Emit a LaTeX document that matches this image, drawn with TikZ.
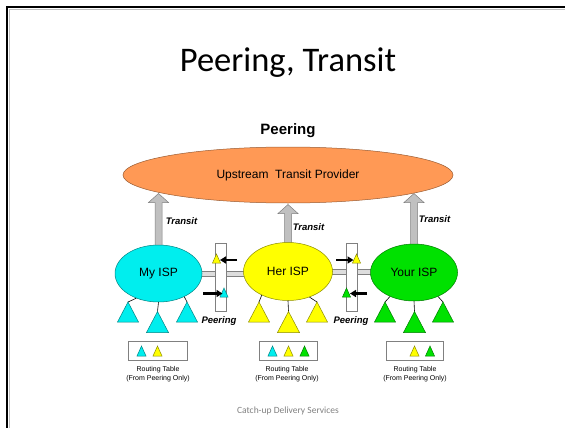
\documentclass[tikz,border=0pt]{standalone}
\usepackage{fontspec}
\setmainfont{Liberation Sans}
\newfontfamily\calib{Carlito}
\usetikzlibrary{shapes.geometric,arrows.meta,calc,backgrounds}
\definecolor{orng}{RGB}{255,153,85}
\definecolor{cy}{RGB}{0,238,238}
\definecolor{yl}{RGB}{255,255,0}
\definecolor{gr}{RGB}{0,225,0}
\definecolor{bargray}{RGB}{221,221,221}
\definecolor{argray}{RGB}{192,192,192}
\tikzset{
  isp/.style={ellipse, draw=#1!55!black, fill=#1, line width=0.5pt, inner sep=0pt,
    minimum width=87pt, minimum height=57pt, font=\fontsize{12}{14}\selectfont},
  upstream/.style={ellipse, draw=orng!60!black, fill=orng, line width=0.5pt, inner sep=0pt,
    minimum width=330pt, minimum height=56pt, font=\fontsize{12}{14}\selectfont},
  tarrow/.style={fill=argray, draw=gray, line width=0.5pt},
  bar/.style={fill=bargray, draw=gray, line width=0.5pt},
  prect/.style={draw=gray, fill=white, line width=0.6pt, minimum width=11pt, minimum height=68pt, inner sep=0pt},
  rtbox/.style={draw=gray, fill=white, line width=0.6pt, minimum width=58pt, minimum height=19pt, inner sep=0pt},
  rtlabel/.style={align=center, font=\fontsize{7}{9}\selectfont, inner sep=0pt},
  tlabel/.style={font=\fontsize{9.5}{11}\selectfont\bfseries\itshape, inner sep=0pt},
  blk/.style={-{Triangle[length=6pt,width=7pt]}, line width=2.3pt, black},
  hang/.style={line width=0.6pt, black},
  tcy/.style={fill=cy, draw=cy!55!black, line width=0.5pt},
  tyl/.style={fill=yl, draw=yl!55!black, line width=0.5pt},
  tgr/.style={fill=gr, draw=gr!55!black, line width=0.5pt},
}
\newcommand\tri[5]{\filldraw[#5] ({#1-#3/2},{#2+#4}) -- (#1,#2) -- ({#1+#3/2},{#2+#4}) -- cycle;}
\newcommand\transitarrow[2]{\draw[tarrow] let \p1=(#1), \p2=(#2) in
  (\x1-3.5pt,\y1-3pt) -- (\x1-3.5pt,\y2-9pt) -- (\x1-10pt,\y2-9pt) -- (\x1,\y2) --
  (\x1+10pt,\y2-9pt) -- (\x1+3.5pt,\y2-9pt) -- (\x1+3.5pt,\y1-3pt) -- cycle;}
\begin{document}
\begin{tikzpicture}[x=1pt,y=-1pt]
\useasboundingbox (0,0) rectangle (565,428);
% slide frame
\draw[gray!50, line width=0.9pt] (9.8,428) -- (9.8,9.8) -- (565,9.8);
\draw[black, line width=2.2pt] (7.3,428) -- (7.3,7.3) -- (565,7.3);
% titles
\node[font=\calib\fontsize{34.5}{38}\selectfont] (title) at (288,63) {Peering, Transit};
\node[font=\fontsize{15}{17}\selectfont\bfseries] (peerhead) at (288,131) {Peering};
\node[font=\calib\fontsize{9.5}{11}\selectfont, text=gray] (footer) at (288,411) {Catch-up Delivery Services};
% main ellipses
\node[upstream] (up) at (288,175) {Upstream\ \ Transit Provider};
\node[isp=cy] (my) at (158.5,273.5) {My ISP};
\node[isp=yl, minimum width=89pt, minimum height=58pt] (her) at (288,271.5) {Her ISP};
\node[isp=gr] (your) at (414,272.5) {Your ISP};
% peering rectangles
\node[prect] (p1) at (220.5,277) {};
\node[prect] (p2) at (351.5,277) {};
% tips of transit arrows
\coordinate (t1) at (158.5,193.5);
\coordinate (t2) at (288,204.5);
\coordinate (t3) at (413.5,193.5);
\begin{scope}[on background layer]
  \transitarrow{my.north}{t1}
  \transitarrow{her.north}{t2}
  \transitarrow{your.north}{t3}
  \draw[bar] let \p1=(my.east), \p2=(her.west) in (\x1-3pt,\y1-2.5pt) rectangle (\x2+3pt,\y1+2.5pt);
  \draw[bar] let \p1=(her.east), \p2=(your.west) in (\x1-3pt,\y1-2.5pt) rectangle (\x2+3pt,\y1+2.5pt);
\end{scope}
% transit labels
\node[tlabel] (tr1) at (181.5,221) {Transit};
\node[tlabel] (tr2) at (308.5,227.5) {Transit};
\node[tlabel] (tr3) at (434.5,219) {Transit};
% peering labels
\node[tlabel] (pl1) at (219,321) {Peering};
\node[tlabel] (pl2) at (351,321) {Peering};
% triangles inside peering rectangles
\tri{216.5}{254}{8}{9}{tyl}
\tri{224}{288}{8}{9}{tcy}
\tri{356.5}{254}{8}{9}{tyl}
\tri{346.5}{288}{8}{9}{tgr}
% black arrows
\coordinate (a1s) at (237,260); \coordinate (a1e) at (220,260);
\coordinate (a2s) at (203,293.5); \coordinate (a2e) at (222.5,293.5);
\coordinate (a3s) at (336,260); \coordinate (a3e) at (353.5,260);
\coordinate (a4s) at (367,293.5); \coordinate (a4e) at (350,293.5);
\draw[blk] (a1s) -- (a1e);
\draw[blk] (a2s) -- (a2e);
\draw[blk] (a3s) -- (a3e);
\draw[blk] (a4s) -- (a4e);
% hanging customer triangles
\coordinate (m1) at (128,302); \coordinate (m2) at (157.5,311.5); \coordinate (m3) at (187,302);
\coordinate (h1) at (259,302); \coordinate (h2) at (288.5,311.5); \coordinate (h3) at (317,302);
\coordinate (y1) at (385,302); \coordinate (y2) at (414.5,311.5); \coordinate (y3) at (443,302);
\draw[hang] (my.228) -- (m1); \draw[hang] (my.south) -- (m2); \draw[hang] (my.318) -- (m3);
\draw[hang] (her.222) -- (h1); \draw[hang] (her.south) -- (h2); \draw[hang] (her.310) -- (h3);
\draw[hang] (your.225) -- (y1); \draw[hang] (your.south) -- (y2); \draw[hang] (your.315) -- (y3);
\tri{128}{302}{21}{20}{tcy}
\tri{157.5}{311.5}{22}{21}{tcy}
\tri{187}{302}{21}{20}{tcy}
\tri{259}{302}{21}{20}{tyl}
\tri{288.5}{311.5}{22}{21}{tyl}
\tri{317}{302}{21}{20}{tyl}
\tri{385}{302}{21}{20}{tgr}
\tri{414.5}{311.5}{22}{21}{tgr}
\tri{443}{302}{21}{20}{tgr}
% routing tables
\node[rtbox, minimum width=59pt] (rt1) at (157.5,350.5) {};
\node[rtbox] (rt2) at (288,350.5) {};
\node[rtbox, minimum width=57pt] (rt3) at (414.5,350.5) {};
\tri{141.5}{346}{9}{10}{tcy}
\tri{157.5}{346}{9}{10}{tyl}
\tri{272.5}{346}{9}{10}{tcy}
\tri{288.5}{346}{9}{10}{tyl}
\tri{304.5}{346}{9}{10}{tgr}
\tri{414.5}{346}{9}{10}{tyl}
\tri{430}{346}{9}{10}{tgr}
\node[rtlabel] (rl1) at (158,374.5) {Routing Table\\(From Peering Only)};
\node[rtlabel] (rl2) at (287,374.5) {Routing Table\\(From Peering Only)};
\node[rtlabel] (rl3) at (415,374.5) {Routing Table\\(From Peering Only)};
\end{tikzpicture}
\end{document}
